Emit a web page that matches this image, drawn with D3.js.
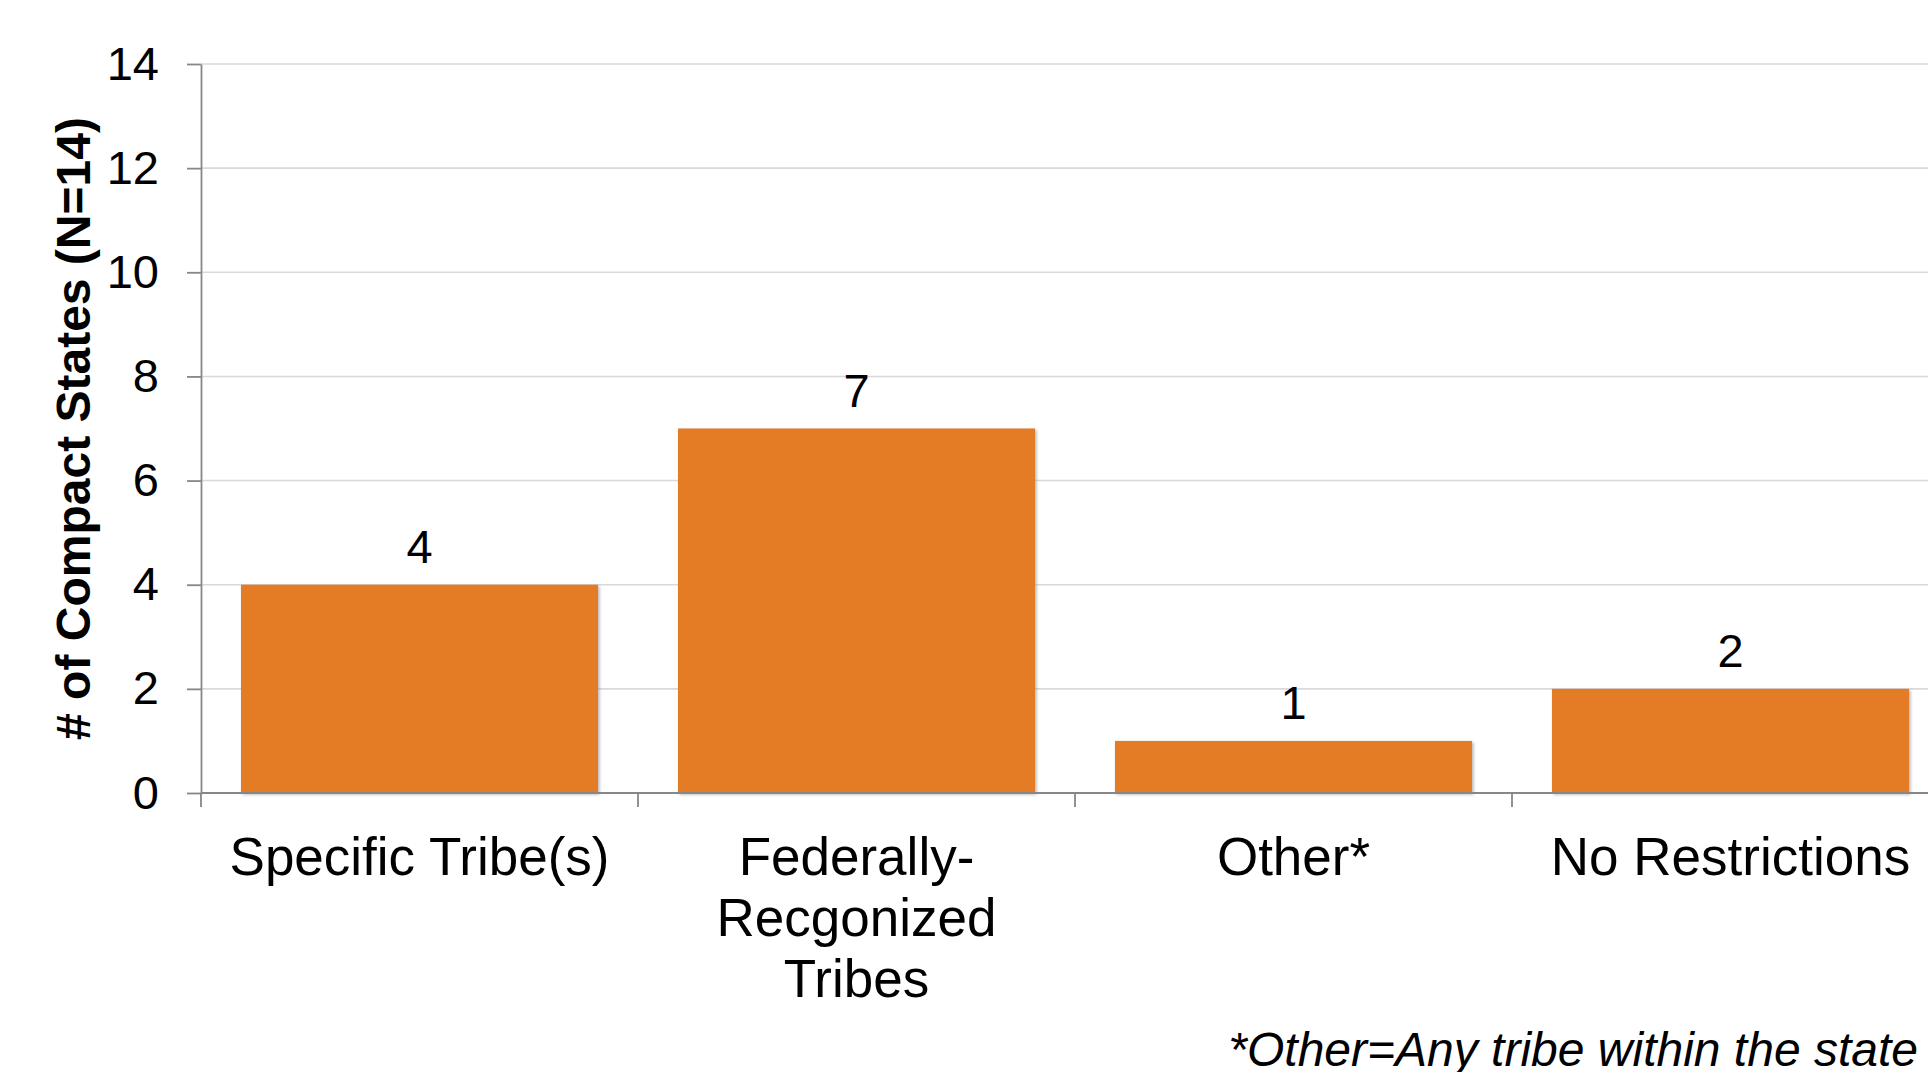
<!DOCTYPE html>
<html>
<head>
<meta charset="utf-8">
<script src="https://cdn.jsdelivr.net/npm/d3@7"></script>
<style>
  html, body { margin: 0; padding: 0; background: #fff; overflow: hidden; }
  svg { display: block; font-family: "Liberation Sans", Arial, sans-serif; }
</style>
</head>
<body>
<svg id="chart" width="1928" height="1072"></svg>
<script>
// Compact states by tribal eligibility restriction
const categories = ["Specific Tribe(s)", "Federally-Recgonized Tribes", "Other*", "No Restrictions"];
const categoryLines = [["Specific Tribe(s)"], ["Federally-", "Recgonized", "Tribes"], ["Other*"], ["No Restrictions"]];
const counts = [4, 7, 1, 2];
const yTicks = [0, 2, 4, 6, 8, 10, 12, 14];
const yTitle = "# of Compact States (N=14)";
const footnote = "*Other=Any tribe within the state";

(function drawChart() {
  const svg = d3.select("#chart");
  const W = 1928;
  const plotLeft = 201, plotTop = 64, plotBottom = 793, plotRight = 1949;

  const x = d3.scaleBand()
    .domain(categories)
    .range([plotLeft, plotRight])
    .paddingInner(0.183)
    .paddingOuter(0.0915);

  const y = d3.scaleLinear().domain([0, 14]).range([plotBottom, plotTop]);

  const defs = svg.append("defs");
  const shadow = defs.append("filter").attr("id", "barShadow")
    .attr("x", "-5%").attr("y", "-5%").attr("width", "115%").attr("height", "115%");
  shadow.append("feDropShadow")
    .attr("dx", 1.5).attr("dy", 1.5).attr("stdDeviation", 1.8)
    .attr("flood-color", "#777").attr("flood-opacity", 0.55);

  // horizontal gridlines
  svg.append("g")
    .selectAll("line")
    .data(yTicks.filter(d => d > 0))
    .join("line")
    .attr("x1", plotLeft).attr("x2", W)
    .attr("y1", d => y(d)).attr("y2", d => y(d))
    .attr("stroke", "#d9d9d9").attr("stroke-width", 1.6);

  // bars
  svg.append("g")
    .selectAll("rect")
    .data(categories)
    .join("rect")
    .attr("x", d => x(d))
    .attr("width", x.bandwidth())
    .attr("y", (d, i) => y(counts[i]))
    .attr("height", (d, i) => y(0) - y(counts[i]))
    .attr("fill", "#e47b25")
    .attr("filter", "url(#barShadow)");

  // value labels
  svg.append("g")
    .selectAll("text")
    .data(categories)
    .join("text")
    .attr("x", d => x(d) + x.bandwidth() / 2)
    .attr("y", (d, i) => y(counts[i]) - 22)
    .attr("text-anchor", "middle")
    .attr("font-size", 47)
    .attr("fill", "#000")
    .text((d, i) => counts[i]);

  // y axis
  const yAxis = d3.axisLeft(y).tickValues(yTicks).tickSize(14).tickPadding(28).tickSizeOuter(0);
  const gy = svg.append("g").attr("transform", `translate(${plotLeft},0)`).call(yAxis);
  gy.select(".domain").attr("stroke", "#878787").attr("stroke-width", 1.8);
  gy.selectAll(".tick line").attr("stroke", "#878787").attr("stroke-width", 1.8);
  gy.selectAll(".tick text")
    .attr("font-size", 47)
    .attr("font-family", "'Liberation Sans', Arial, sans-serif")
    .attr("fill", "#000");

  // x axis: baseline and boundary ticks
  const gx = svg.append("g");
  gx.append("line")
    .attr("x1", plotLeft).attr("x2", W)
    .attr("y1", y(0)).attr("y2", y(0))
    .attr("stroke", "#878787").attr("stroke-width", 1.8);
  const step = x.step();
  gx.selectAll("line.tick")
    .data(categories)
    .join("line")
    .attr("class", "tick")
    .attr("x1", d => x(d) - step * x.paddingInner() / 2)
    .attr("x2", d => x(d) - step * x.paddingInner() / 2)
    .attr("y1", y(0)).attr("y2", y(0) + 14)
    .attr("stroke", "#878787").attr("stroke-width", 1.8);

  // category labels
  const labels = svg.append("g")
    .selectAll("text")
    .data(categories)
    .join("text")
    .attr("text-anchor", "middle")
    .attr("font-size", 53)
    .attr("fill", "#000");
  labels.each(function(d, i) {
    const cx = x(d) + x.bandwidth() / 2;
    d3.select(this).selectAll("tspan")
      .data(categoryLines[i])
      .join("tspan")
      .attr("x", cx)
      .attr("y", (line, j) => 875 + j * 61)
      .text(line => line);
  });

  // y axis title
  svg.append("text")
    .attr("transform", `translate(90,${(plotTop + plotBottom) / 2}) rotate(-90)`)
    .attr("text-anchor", "middle")
    .attr("font-size", 48)
    .attr("font-weight", "bold")
    .attr("fill", "#000")
    .text(yTitle);

  // footnote
  svg.append("text")
    .attr("x", 1918)
    .attr("y", 1066)
    .attr("text-anchor", "end")
    .attr("font-size", 48)
    .attr("font-style", "italic")
    .attr("fill", "#000")
    .text(footnote);
})();
</script>
</body>
</html>
